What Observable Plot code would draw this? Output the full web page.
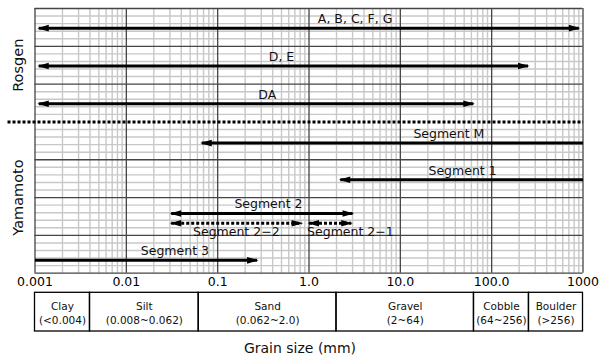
<!DOCTYPE html>
<html><head><meta charset="utf-8">
<script src="https://cdn.jsdelivr.net/npm/d3@7"></script>
<script src="https://cdn.jsdelivr.net/npm/@observablehq/plot@0.6"></script>
<style>
body{margin:0;background:#fff;font-family:"DejaVu Sans",sans-serif;color:#000;}
#chart{width:600px;height:359px;overflow:hidden;}
#chart svg{display:block;}
.cap{width:600px;text-align:center;font-size:14px;line-height:16px;padding-top:8px;color:#111;}
</style></head><body><div id="chart"></div>
<script>
// ---- data ----
const segNames = ["A, B, C, F, G", "D, E", "DA", "Segment M", "Segment 1", "Segment 2", "Segment 2\u22122", "Segment 2\u22121", "Segment 3"];
const segFrom  = [0.0011, 0.0011, 0.0011, 0.067, 2.2, 0.031, 0.031, 1.0, 0.001];
const segTo    = [900, 250, 63, 1000, 1000, 3.0, 0.83, 2.9, 0.27];
const segRow   = [2.6, 7.6, 12.6, 17.8, 22.65, 27.1, 28.4, 28.4, 33.3];
const segHeads = ["both", "both", "both", "start", "start", "both", "both", "both", "end"];
const segDotted = [false, false, false, false, false, false, true, true, false];
const labelX   = [3.2, 0.5, 0.35, 34, 48, 0.36, 0.16, 2.84, 0.034];
const labelSide = ["above", "above", "above", "above", "above", "above", "below", "below", "above"];

const groupNames = ["Rosgen", "Yamamoto"];
const groupFrom = [0, 15];
const groupTo = [15, 35];
const separatorRow = 15;
const separatorFrom = 0.0005;
const separatorTo = 1000;

const tickValues = [0.001, 0.01, 0.1, 1, 10, 100, 1000];
const tickLabels = ["0.001", "0.01", "0.1", "1.0", "10.0", "100.0", "1000"];

const classNames = ["Clay", "Silt", "Sand", "Gravel", "Cobble", "Boulder"];
const classRanges = ["(<0.004)", "(0.008~0.062)", "(0.062~2.0)", "(2~64)", "(64~256)", "(>256)"];
const classBounds = [0.001, 0.004, 0.062, 2, 64, 256, 1000];

// ---- tables ----
const segs = segNames.map((name, i) => ({name, from: segFrom[i], to: segTo[i], row: segRow[i],
  heads: segHeads[i], dotted: segDotted[i], lx: labelX[i], side: labelSide[i]}));
const groups = groupNames.map((name, i) => ({name, mid: (groupFrom[i] + groupTo[i]) / 2}));
const classes = classNames.map((name, i) => ({name, range: classRanges[i], lo: classBounds[i], hi: classBounds[i + 1]}));

const minorX = [];
for (let k = 0; k < tickValues.length - 1; k++) for (let m = 2; m <= 9; m++) minorX.push(tickValues[k] * m);
const rowsAll = d3.range(0, 36);
const minorY = rowsAll.filter(r => r % 5 !== 0);
const majorY = rowsAll.filter(r => r % 5 === 0 && r !== separatorRow);

const NS = "http://www.w3.org/2000/svg";
function head(color, context) {
  const doc = (context && context.document) || document;
  const m = doc.createElementNS(NS, "marker");
  m.setAttribute("viewBox", "-11 -4 13 8");
  m.setAttribute("markerWidth", "13");
  m.setAttribute("markerHeight", "8");
  m.setAttribute("markerUnits", "userSpaceOnUse");
  m.setAttribute("orient", "auto-start-reverse");
  m.setAttribute("fill", color);
  m.setAttribute("stroke", "none");
  const p = doc.createElementNS(NS, "path");
  p.setAttribute("d", "M-10,-3.3L1.5,0L-10,3.3Z");
  m.appendChild(p);
  return m;
}

const linkMarks = [];
for (const h of ["both", "start", "end"]) for (const dot of [false, true]) {
  const sub = segs.filter(d => d.heads === h && d.dotted === dot);
  if (!sub.length) continue;
  linkMarks.push(Plot.link(sub, {x1: "from", x2: "to", y1: "row", y2: "row", stroke: "#000", strokeWidth: 3,
    strokeDasharray: dot ? "3,2" : null,
    markerStart: h !== "end" ? head : null, markerEnd: h !== "start" ? head : null}));
}

const xScale = {type: "log", domain: [0.001, 1000]};
const common = {width: 600, marginLeft: 34.5, marginRight: 17.5,
  style: {fontFamily: "DejaVu Sans, sans-serif", fontSize: "12.5px", background: "white", color: "#000", overflow: "visible"}};

const chart1 = Plot.plot({
  ...common,
  height: 291, marginTop: 8, marginBottom: 18.3,
  x: xScale,
  y: {domain: [0, 35], reverse: true, axis: null},
  marks: [
    Plot.ruleX(minorX, {stroke: "#c8c8c8", strokeWidth: 1.4}),
    Plot.ruleY(minorY, {stroke: "#c8c8c8", strokeWidth: 1.4}),
    Plot.ruleX(tickValues, {stroke: "#454545", strokeWidth: 1.3}),
    Plot.ruleY(majorY, {stroke: "#454545", strokeWidth: 1.3}),
    Plot.link([{row: separatorRow, from: separatorFrom, to: separatorTo}], {x1: "from", x2: "to", y1: "row", y2: "row",
      stroke: "#000", strokeWidth: 3, strokeDasharray: "3,2"}),
    ...linkMarks,
    Plot.text(segs.filter(d => d.side === "above"), {x: "lx", y: "row", text: "name", dy: -9, fontSize: 12.5, fill: "#111"}),
    Plot.text(segs.filter(d => d.side === "below"), {x: "lx", y: "row", text: "name", dy: 9, fontSize: 12.5, fill: "#111"}),
    Plot.text(groups, {y: "mid", text: "name", frameAnchor: "left", textAnchor: "middle", dx: -17, rotate: -90, fontSize: 14.5, fill: "#111"}),
    Plot.axisX(tickValues, {tickFormat: d => tickLabels[tickValues.indexOf(d)], tickSize: 0, tickPadding: 4, fontSize: 12.5, label: null})
  ]
});

const chart2 = Plot.plot({
  ...common,
  height: 41, marginTop: 1.3, marginBottom: 1,
  x: {...xScale, axis: null},
  marks: [
    Plot.rect(classes, {x1: "lo", x2: "hi", fill: "none", stroke: "#000", strokeWidth: 1.3}),
    Plot.text(classes, {x: d => Math.sqrt(d.lo * d.hi), text: d => d.name + "\n" + d.range, frameAnchor: "middle",
      fontSize: 10.5, lineHeight: 1.4, fill: "#111"})
  ]
});

const el = document.getElementById("chart");
el.appendChild(chart1);
el.appendChild(chart2);
const cap = document.createElement("div");
cap.className = "cap";
cap.textContent = "Grain size (mm)";
el.appendChild(cap);
</script>
</body></html>
